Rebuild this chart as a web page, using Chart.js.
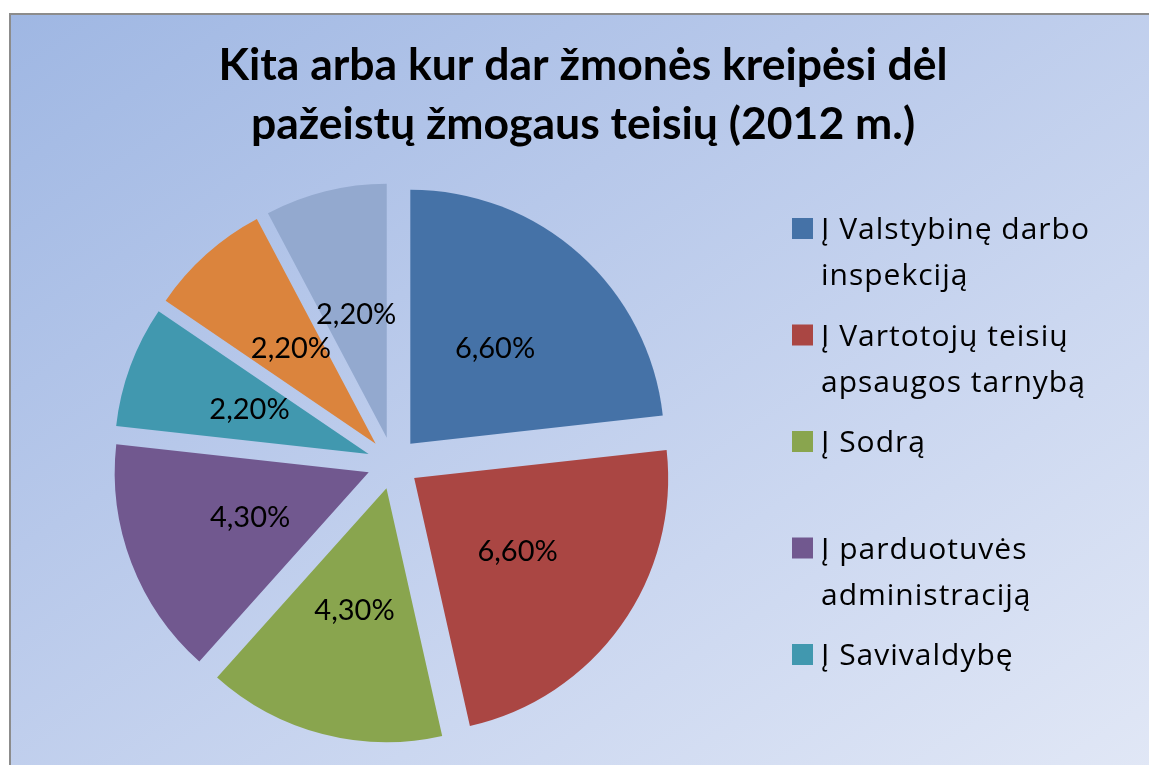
<!DOCTYPE html>
<html lang="lt">
<head>
<meta charset="utf-8">
<title>Kita arba kur dar žmonės kreipėsi dėl pažeistų žmogaus teisių (2012 m.)</title>
<script src="https://cdn.jsdelivr.net/npm/chart.js@4.4.1/dist/chart.umd.min.js"></script>
<style>
  html, body { margin: 0; padding: 0; background: #fff; overflow: hidden; }
  #frame {
    position: absolute; left: 9px; top: 13px; width: 1160px; height: 770px;
    border-left: 2px solid #8c8c8c; border-top: 2px solid #8c8c8c;
    background: linear-gradient(to bottom right, #9fb7e3 0%, #b7c8ea 35%, #cbd7f0 65%, #e2e8f6 100%);
  }
  #chart { position: absolute; left: 0; top: 0; }
</style>
</head>
<body>
<div id="frame"></div>
<canvas id="chart" width="1149" height="765"></canvas>
<script>
// duomenys, nuskaityti iš paveikslėlio
const titleLines = ['Kita arba kur dar žmonės kreipėsi dėl', 'pažeistų žmogaus teisių (2012 m.)'];
const categories = [
  ['Į Valstybinę darbo', 'inspekciją'],
  ['Į Vartotojų teisių', 'apsaugos tarnybą'],
  ['Į Sodrą'],
  ['Į parduotuvės', 'administraciją'],
  ['Į Savivaldybę'],
  [''],   // originalo legendoje nematyti
  ['']
];
const values = [6.6, 6.6, 4.3, 4.3, 2.2, 2.2, 2.2];
const colors = ['#4572a7', '#aa4643', '#89a54e', '#71588f', '#4198af', '#db843d', '#93a9cf'];

const FONT = 'Lato, "Open Sans", sans-serif';
const LEGEND_FONT = '"Open Sans", Lato, sans-serif';
const EXPLODE = 26;          // kiek kiekviena skiltis atitraukta nuo centro
const LEGEND = { width: 380, padding: 23, top: 218, pitch: 106.5, boxSize: 21, gap: 8, fontSize: 30, lineHeight: 46 };

const fmt = v => v.toFixed(2).replace('.', ',') + '%';

// skiltis piešiame pačios atitrauktas (Chart.js offset keičia ir spindulį)
const explodedPie = {
  id: 'explodedPie',
  beforeDatasetDraw(chart, args) {
    const ctx = chart.ctx;
    const arcs = args.meta.data;
    const shift = arcs.map(arc => {
      const mid = (arc.startAngle + arc.endAngle) / 2;
      return { dx: Math.cos(mid) * EXPLODE, dy: Math.sin(mid) * EXPLODE };
    });
    arcs.forEach((arc, i) => {
      ctx.save();
      ctx.translate(shift[i].dx, shift[i].dy);
      arc.draw(ctx);
      ctx.restore();
    });
    ctx.save();
    ctx.font = '29px ' + FONT;
    ctx.fillStyle = '#000';
    ctx.textAlign = 'center';
    ctx.textBaseline = 'middle';
    arcs.forEach((arc, i) => {
      const c = arc.getCenterPoint();
      ctx.fillText(fmt(values[i]), c.x + shift[i].dx, c.y + shift[i].dy);
    });
    ctx.restore();
    return false;
  }
};

// legenda dešinėje, su kelių eilučių pavadinimais
function drawLegend(chart, box) {
  const ctx = chart.ctx;
  ctx.save();
  ctx.font = LEGEND.fontSize + 'px ' + LEGEND_FONT;
  ctx.letterSpacing = '1px';
  ctx.textBaseline = 'alphabetic';
  ctx.textAlign = 'left';
  let slot = 0;
  categories.forEach((lines, i) => {
    if (!lines[0]) return;
    const top = LEGEND.top + slot * LEGEND.pitch;
    const x = box.left + LEGEND.padding;
    ctx.fillStyle = colors[i];
    ctx.fillRect(x, top, LEGEND.boxSize, LEGEND.boxSize);
    ctx.fillStyle = '#000';
    lines.forEach((line, j) => {
      ctx.fillText(line, x + LEGEND.boxSize + LEGEND.gap, top + LEGEND.boxSize + j * LEGEND.lineHeight);
    });
    slot++;
  });
  ctx.restore();
}

const sideLegend = {
  id: 'sideLegend',
  beforeInit(chart) {
    Chart.layouts.addBox(chart, {
      position: 'right',
      weight: 1000,
      fullSize: true,
      options: {},
      isHorizontal() { return false; },
      update(maxWidth, maxHeight) { this.width = LEGEND.width; this.height = maxHeight; },
      draw() { drawLegend(chart, this); }
    });
  }
};

new Chart(document.getElementById('chart').getContext('2d'), {
  type: 'pie',
  data: {
    labels: categories.map(c => c.join(' ')),
    datasets: [{
      data: values,
      backgroundColor: colors,
      borderWidth: 0,
      radius: 254
    }]
  },
  options: {
    responsive: false,
    animation: false,
    events: [],
    layout: { padding: { left: 17, right: 0, top: 0, bottom: 0 } },
    plugins: {
      legend: { display: false },
      tooltip: { enabled: false },
      title: {
        display: true,
        text: titleLines,
        color: '#000',
        font: { family: FONT, size: 44.5, weight: 'bold', lineHeight: '59px' },
        padding: { top: 36, bottom: 7 }
      }
    }
  },
  plugins: [explodedPie, sideLegend]
});
</script>
</body>
</html>
